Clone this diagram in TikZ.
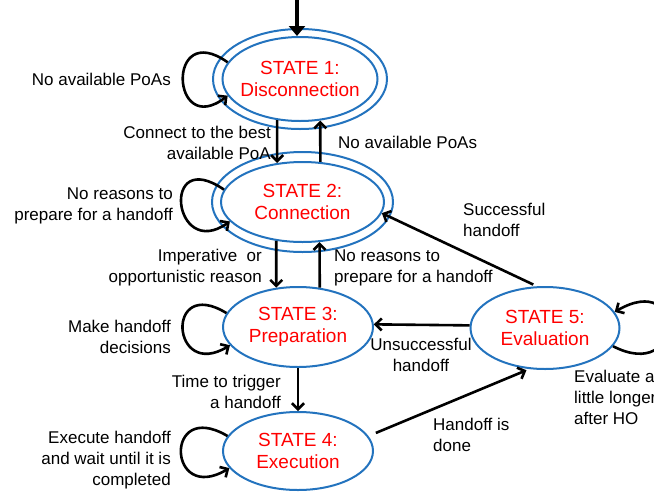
\documentclass[tikz,border=0pt]{standalone}
\usepackage{fontspec}
\setmainfont{Liberation Sans}
\usetikzlibrary{shapes.geometric,arrows.meta}
\definecolor{stateblue}{RGB}{35,115,190}
\definecolor{statered}{RGB}{255,0,0}

\begin{document}
\begin{tikzpicture}[x=1pt,y=-1pt,
  stateshape/.style={ellipse, draw=stateblue, line width=2pt, inner sep=0pt},
  statetext/.style={text=statered, font=\fontsize{19pt}{22pt}\selectfont, align=center, inner sep=0pt},
  lbl/.style={font=\fontsize{17pt}{21pt}\selectfont, inner sep=0pt, text=black},
  arr/.style={draw=black, line width=2.6pt, -{Straight Barb[length=6pt,width=12pt]}},
  initarr/.style={draw=black, line width=4pt, -{Triangle[length=10pt,width=16pt]}}
]
\path[use as bounding box] (0,0) rectangle (654,491);
\clip (0,0) rectangle (654,491);

% states (1 and 2 are drawn with a double ring)
\node[stateshape, minimum width=155pt, minimum height=84pt] (s1) at (300,79) {};
\node[stateshape, minimum width=174pt, minimum height=100pt] (s1o) at (s1.center) {};
\node[statetext] (s1t) at (s1.center) {STATE 1:\\Disconnection};

\node[stateshape, minimum width=163pt, minimum height=80pt] (s2) at (302.5,202) {};
\node[stateshape, minimum width=181pt, minimum height=100pt] (s2o) at (s2.center) {};
\node[statetext] (s2t) at (s2.center) {STATE 2:\\Connection};

\node[stateshape, minimum width=150pt, minimum height=80pt] (s3) at (298,327) {};
\node[statetext] (s3t) at (s3.center) {STATE 3:\\Preparation};

\node[stateshape, minimum width=150pt, minimum height=78pt] (s4) at (298,451) {};
\node[statetext] (s4t) at (s4.center) {STATE 4:\\Execution};

\node[stateshape, minimum width=149pt, minimum height=82pt] (s5) at (545,328) {};
\node[statetext] (s5t) at (s5.center) {STATE 5:\\Evaluation};

% entry arrow
\coordinate (entry) at (297,0);
\draw[initarr] (entry) -- (entry |- s1.north);

% transitions
\draw[arr] (s1.241) -- (s2.123);
\draw[arr] (s2.66) -- (s1.296);
\draw[arr] (s2.236) -- (s3.119);
\draw[arr] (s3.61) -- (s2.293);
\draw[arr] (s3.south) -- (s4.north);
\draw[arr] (s5.178) -- (s3.2);
\draw[arr, shorten <=4pt] (s5.101) -- (s2.352);
\draw[arr, shorten <=8pt, shorten >=3pt] (s4.12) -- (s5.249);

% self loops
\draw[arr] (s1.167) .. controls +(-62,-44) and +(-57,44) .. (s1.193);
\draw[arr] (s2.171) .. controls +(-64,-44) and +(-57,40) .. (s2.195);
\draw[arr] (s3.169) .. controls +(-62,-38) and +(-59,36) .. (s3.195);
\draw[arr] (s4.168) .. controls +(-64,-38) and +(-62,37) .. (s4.194);
\draw[arr] (s5.345) .. controls +(72,37) and +(72,-42) .. (s5.13);

% transition labels
\node[lbl, anchor=east] (l1) at (171,79) {No available PoAs};
\node[lbl, anchor=east, align=right] (l2) at (271,143) {Connect to the best\\available PoA};
\node[lbl, anchor=west] (l3) at (338,142) {No available PoAs};
\node[lbl, anchor=east, align=right] (l4) at (173,206) {No reasons to\\prepare for a handoff};
\node[lbl, anchor=west, align=left] (l5) at (463,220) {Successful\\handoff};
\node[lbl, anchor=east, align=right] (l6) at (262,268) {Imperative~ or\\opportunistic reason};
\node[lbl, anchor=west, align=left] (l7) at (334,268) {No reasons to\\prepare for a handoff};
\node[lbl, anchor=east, align=right] (l8) at (171,337) {Make handoff\\decisions};
\node[lbl, align=center] (l9) at (421,355) {Unsuccessful\\handoff};
\node[lbl, anchor=east, align=right] (l10) at (281,392) {Time to trigger\\a handoff};
\node[lbl, anchor=east, align=right] (l11) at (171,460) {Execute handoff\\and wait until it is\\completed};
\node[lbl, anchor=west, align=left] (l12) at (433,435) {Handoff is\\done};
\node[lbl, anchor=west, align=left] (l13) at (574,397) {Evaluate a\\little longer\\after HO};
\end{tikzpicture}
\end{document}
